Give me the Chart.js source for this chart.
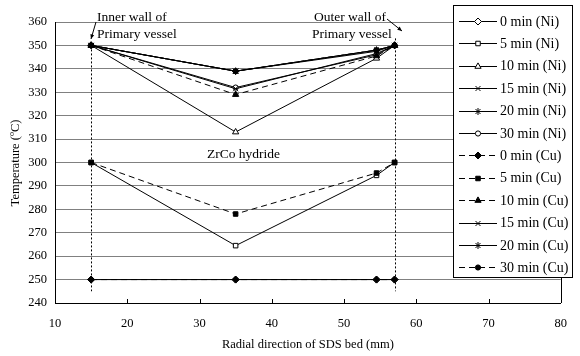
<!DOCTYPE html>
<html>
<head>
<meta charset="utf-8">
<script src="https://cdn.jsdelivr.net/npm/chart.js@4.4.0/dist/chart.umd.min.js"></script>
<style>
  html, body { margin: 0; padding: 0; background: #fff; }
  #wrap { width: 580px; height: 356px; position: relative; }
</style>
</head>
<body>
<div id="wrap"><canvas id="chart"></canvas></div>
<script>
// radial positions of the thermocouples (mm)
const positions = [15, 35, 54.5, 57];

const labels = [
    '0 min (Ni)', '5 min (Ni)', '10 min (Ni)', '15 min (Ni)', '20 min (Ni)', '30 min (Ni)',
    '0 min (Cu)', '5 min (Cu)', '10 min (Cu)', '15 min (Cu)', '20 min (Cu)', '30 min (Cu)'
];

// temperatures (C) at each position
const ni0 = [250, 250, 250, 250];
const ni5 = [300, 264.5, 294.5, 300];
const ni10 = [350, 313, 344.5, 350];
const ni15 = [350, 331.5, 346.5, 350];
const ni20 = [350, 339, 348, 350];
const ni30 = [350, 332, 346, 350];
const cu0 = [250, 250, 250, 250];
const cu5 = [300, 278, 295.5, 300];
const cu10 = [350, 329, 345.5, 350];
const cu15 = [350, 339, 347.5, 350];
const cu20 = [350, 339, 348, 350];
const cu30 = [350, 339, 348, 350];

const yTicks = [240, 250, 260, 270, 280, 290, 300, 310, 320, 330, 340, 350, 360];
const xTicks = [10, 20, 30, 40, 50, 60, 70, 80];

const seriesValues = [ni0, ni5, ni10, ni15, ni20, ni30, cu0, cu5, cu10, cu15, cu20, cu30];
const markers = ['rectRot', 'rect', 'triangle', 'crossRot', 'star', 'circle',
                 'rectRot', 'rect', 'triangle', 'crossRot', 'star', 'circle'];
const filled = [false, false, false, false, false, false, true, true, true, true, true, true];
const dashed = [false, false, false, false, false, false, true, true, true, false, false, true];

const serif = '"Liberation Serif", "Times New Roman", serif';

function markerSize(style) {
    if (style === 'circle') return 2.6;
    if (style === 'rect') return 3.2;
    if (style === 'triangle') return 3.6;
    return 3.5;
}

const datasets = seriesValues.map((vals, i) => ({
    label: labels[i],
    data: vals.map((v, j) => ({ x: positions[j], y: v })),
    order: filled[i] ? 0 : 1,
    borderColor: '#000',
    borderWidth: 1,
    borderDash: dashed[i] ? [6, 4] : [],
    pointStyle: markers[i],
    pointRadius: markerSize(markers[i]),
    pointBorderWidth: 1,
    pointBorderColor: '#000',
    pointBackgroundColor: filled[i] ? '#000' : '#fff',
    tension: 0,
    fill: false
}));

const extras = {
    id: 'extras',
    afterDatasetsDraw(chart) {
        const ctx = chart.ctx;
        const xs = chart.scales.x;
        const ys = chart.scales.y;
        const area = chart.chartArea;
        ctx.save();

        // right border of plot
        ctx.strokeStyle = '#000';
        ctx.lineWidth = 1;
        ctx.beginPath();
        ctx.moveTo(Math.round(area.right) + 0.5, area.top);
        ctx.lineTo(Math.round(area.right) + 0.5, area.bottom);
        ctx.stroke();

        // inward tick marks on x axis
        xTicks.forEach(t => {
            const px = Math.round(xs.getPixelForValue(t)) + 0.5;
            ctx.beginPath();
            ctx.moveTo(px, area.bottom);
            ctx.lineTo(px, area.bottom - 4);
            ctx.stroke();
        });

        // dotted wall lines
        ctx.setLineDash([2, 2]);
        [[15, 350], [57, 353]].forEach(([xv, top]) => {
            const px = Math.round(xs.getPixelForValue(xv)) + 0.5;
            ctx.beginPath();
            ctx.moveTo(px, ys.getPixelForValue(top));
            ctx.lineTo(px, ys.getPixelForValue(245));
            ctx.stroke();
        });
        ctx.setLineDash([]);

        // annotation texts
        ctx.fillStyle = '#000';
        ctx.font = '13.5px ' + serif;
        ctx.textBaseline = 'middle';
        ctx.textAlign = 'left';
        ctx.fillText('Inner wall of', 97, 17);
        ctx.fillText('Primary vessel', 97, 34);
        ctx.fillText('Outer wall of', 314, 17);
        ctx.fillText('Primary vessel', 312, 34);
        ctx.fillText('ZrCo hydride', 207, 154);

        // arrows
        function arrow(x1, y1, x2, y2) {
            ctx.beginPath();
            ctx.moveTo(x1, y1);
            ctx.lineTo(x2, y2);
            ctx.stroke();
            const a = Math.atan2(y2 - y1, x2 - x1);
            ctx.beginPath();
            ctx.moveTo(x2, y2);
            ctx.lineTo(x2 - 5 * Math.cos(a - 0.4), y2 - 5 * Math.sin(a - 0.4));
            ctx.lineTo(x2 - 5 * Math.cos(a + 0.4), y2 - 5 * Math.sin(a + 0.4));
            ctx.closePath();
            ctx.fill();
        }
        arrow(96, 22, 91, 39);
        arrow(387, 19, 402, 31);

        // y axis title with superscript
        ctx.translate(16, 163);
        ctx.rotate(-Math.PI / 2);
        ctx.font = '12.5px ' + serif;
        const p1 = 'Temperature (';
        const p3 = 'C)';
        const w1 = ctx.measureText(p1).width;
        const w3 = ctx.measureText(p3).width;
        ctx.font = '8px ' + serif;
        const w2 = ctx.measureText('o').width;
        let start = -(w1 + w2 + w3) / 2;
        ctx.font = '12.5px ' + serif;
        ctx.fillText(p1, start, 0);
        ctx.font = '8px ' + serif;
        ctx.fillText('o', start + w1, -4);
        ctx.font = '12.5px ' + serif;
        ctx.fillText(p3, start + w1 + w2, 0);
        ctx.setTransform(1, 0, 0, 1, 0, 0);

        // x axis title
        ctx.textAlign = 'center';
        ctx.font = '12.5px ' + serif;
        ctx.fillText('Radial direction of SDS bed (mm)', (area.left + area.right) / 2, 345);

        // legend box
        const lx = 453.5, ly = 5.5, lw = 119, lh = 272;
        ctx.fillStyle = '#fff';
        ctx.fillRect(lx, ly, lw, lh);
        ctx.strokeStyle = '#000';
        ctx.strokeRect(lx, ly, lw, lh);
        ctx.font = '14px ' + serif;
        ctx.textAlign = 'left';
        chart.data.datasets.forEach((ds, i) => {
            const cy = 21 + i * 22.4;
            ctx.strokeStyle = '#000';
            ctx.setLineDash(ds.borderDash);
            ctx.beginPath();
            ctx.moveTo(459, Math.round(cy) + 0.5);
            ctx.lineTo(497, Math.round(cy) + 0.5);
            ctx.stroke();
            ctx.setLineDash([]);
            ctx.fillStyle = ds.pointBackgroundColor;
            Chart.helpers.drawPoint(ctx, {
                pointStyle: ds.pointStyle,
                radius: ds.pointRadius,
                borderWidth: 1,
                rotation: 0
            }, 478, Math.round(cy) + 0.5);
            ctx.fillStyle = '#000';
            ctx.fillText(ds.label, 500, cy + 1);
        });
        ctx.restore();
    }
};

new Chart(document.getElementById('chart'), {
    type: 'line',
    data: { datasets },
    options: {
        responsive: true,
        maintainAspectRatio: false,
        animation: false,
        events: [],
        layout: { padding: { left: 0, right: 6, top: 22, bottom: 0 } },
        plugins: {
            legend: { display: false },
            tooltip: { enabled: false }
        },
        scales: {
            x: {
                type: 'linear',
                min: 10,
                max: 80,
                afterFit(s) { s.height = 53; },
                afterBuildTicks(s) { s.ticks = xTicks.map(v => ({ value: v })); },
                grid: { drawOnChartArea: false, drawTicks: false },
                border: { color: '#000', width: 1 },
                ticks: {
                    padding: 13,
                    color: '#000',
                    font: { family: serif, size: 12.5 }
                }
            },
            y: {
                min: 240,
                max: 360,
                afterFit(s) { s.width = 55; },
                afterBuildTicks(s) { s.ticks = yTicks.map(v => ({ value: v })); },
                grid: { color: '#808080', lineWidth: 1, drawTicks: false },
                border: { color: '#000', width: 1 },
                ticks: {
                    padding: 8,
                    color: '#000',
                    font: { family: serif, size: 12.5 }
                }
            }
        }
    },
    plugins: [extras]
});
</script>
</body>
</html>
